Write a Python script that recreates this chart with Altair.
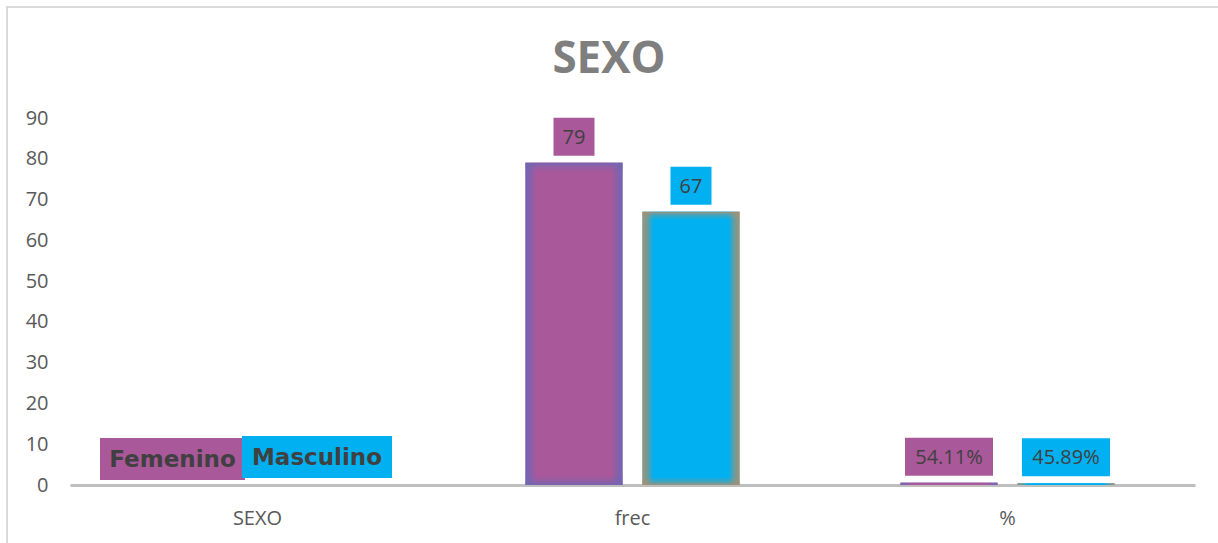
import altair as alt
import pandas as pd

categories = ["SEXO", "frec", "%"]
series = ["Femenino", "Masculino"]
femenino = [0, 79, 0.5411]
masculino = [0, 67, 0.4589]
y_ticks = [0, 10, 20, 30, 40, 50, 60, 70, 80, 90]
chart_title = "SEXO"
series_colors = ["#A9589A", "#00B0F0"]
edge_colors = ["#7066B4", "#A8906F"]

rows = []
for c, f, m in zip(categories, femenino, masculino):
    rows.append({"category": c, "series": "Femenino", "value": f})
    rows.append({"category": c, "series": "Masculino", "value": m})
df = pd.DataFrame(rows)

base = alt.Chart(df).transform_calculate(
    kind="datum.category == 'SEXO' ? datum.series : (datum.category == 'frec' ? 'num' : 'pct')",
    label="datum.category == 'SEXO' ? datum.series : (datum.category == '%' ? format(datum.value, '.2%') : format(datum.value, 'd'))",
)

x_enc = alt.X(
    "category:N",
    sort=categories,
    scale=alt.Scale(domain=categories, paddingInner=0, paddingOuter=0),
    axis=alt.Axis(
        title=None, labelAngle=0, ticks=False, domainColor="#BFBFBF", domainWidth=3,
        labelFont="Open Sans", labelFontSize=20, labelColor="#595959", labelPadding=23,
    ),
)
xo_enc = alt.XOffset("series:N", scale=alt.Scale(domain=series, paddingInner=0.171, paddingOuter=0.688))
y_enc = alt.Y(
    "value:Q",
    scale=alt.Scale(domain=[0, 90], nice=False),
    axis=alt.Axis(
        title=None, values=y_ticks, domain=False, ticks=False, grid=False,
        labelFont="Open Sans", labelFontSize=20, labelColor="#595959", labelPadding=22,
    ),
)


def hex_rgba(h, a):
    h = h.lstrip("#")
    r, g, b = int(h[0:2], 16), int(h[2:4], 16), int(h[4:6], 16)
    return f"rgba({r},{g},{b},{a})"


one_row = "datum.series == 'Femenino' && datum.category == 'SEXO'"

layers = []
# frame
layers.append(
    alt.Chart(df).mark_rect(fill="transparent", stroke="#D9D9D9", strokeWidth=2).encode(
        x=alt.value(-63), x2=alt.value(1300), y=alt.value(-111), y2=alt.value(600)
    ).transform_filter(one_row)
)
# title
layers.append(
    alt.Chart(df).mark_text(
        text=chart_title, font="Open Sans", fontSize=44, fontWeight="bold", color="#7F7F7F",
        align="center", baseline="alphabetic",
    ).encode(x=alt.value(539), y=alt.value(-45)).transform_filter(one_row)
)

for s, col, edge in zip(series, series_colors, edge_colors):
    hgrad = {
        "gradient": "linear", "x1": 0, "y1": 0, "x2": 1, "y2": 0,
        "stops": [
            {"offset": 0, "color": edge},
            {"offset": 0.035, "color": hex_rgba(edge, 0.75)},
            {"offset": 0.11, "color": col},
            {"offset": 0.89, "color": col},
            {"offset": 0.965, "color": hex_rgba(edge, 0.75)},
            {"offset": 1, "color": edge},
        ],
    }
    vgrad = {
        "gradient": "linear", "x1": 0, "y1": 0, "x2": 0, "y2": 1,
        "stops": [
            {"offset": 0, "color": hex_rgba(edge, 0.9)},
            {"offset": 0.012, "color": hex_rgba(edge, 0.4)},
            {"offset": 0.03, "color": hex_rgba(edge, 0)},
            {"offset": 0.97, "color": hex_rgba(edge, 0)},
            {"offset": 0.988, "color": hex_rgba(edge, 0.4)},
            {"offset": 1, "color": hex_rgba(edge, 0.9)},
        ],
    }
    flt = f"datum.series == '{s}'"
    layers.append(base.mark_bar(fill=col).encode(x=x_enc, xOffset=xo_enc, y=y_enc).transform_filter(flt))
    layers.append(base.mark_bar(color=hgrad).encode(x=x_enc, xOffset=xo_enc, y=y_enc).transform_filter(flt))
    layers.append(base.mark_bar(color=vgrad).encode(x=x_enc, xOffset=xo_enc, y=y_enc).transform_filter(flt))

# label boxes (custom symbol paths, unit = 100 px with size 40000)
box_paths = [
    "M-0.99,-0.47L0.46,-0.47L0.46,-0.05L-0.99,-0.05Z",
    "M-0.74,-0.49L0.76,-0.49L0.76,-0.07L-0.74,-0.07Z",
    "M-0.205,-0.45L0.205,-0.45L0.205,-0.07L-0.205,-0.07Z",
    "M-0.44,-0.45L0.44,-0.45L0.44,-0.07L-0.44,-0.07Z",
]
layers.append(
    base.mark_point(filled=True, opacity=1, size=40000, strokeWidth=0).encode(
        x=x_enc, xOffset=xo_enc, y=y_enc,
        shape=alt.Shape("kind:N", scale=alt.Scale(domain=["Femenino", "Masculino", "num", "pct"], range=box_paths), legend=None),
        color=alt.Color("series:N", scale=alt.Scale(domain=series, range=series_colors), legend=None),
    )
)

layers.append(
    base.mark_text(font="Open Sans", fontSize=20, color="#404040", dy=-25, baseline="middle").encode(
        x=x_enc, xOffset=xo_enc, y=y_enc, text="label:N"
    ).transform_filter("datum.kind == 'num' || datum.kind == 'pct'")
)
layers.append(
    base.mark_text(font="DejaVu Sans", fontWeight="bold", fontSize=23, color="#404040", dx=-26.5, dy=-25, baseline="middle").encode(
        x=x_enc, xOffset=xo_enc, y=y_enc, text="label:N"
    ).transform_filter("datum.kind == 'Femenino'")
)
layers.append(
    base.mark_text(font="DejaVu Sans", fontWeight="bold", fontSize=23, color="#404040", dx=1, dy=-27, baseline="middle").encode(
        x=x_enc, xOffset=xo_enc, y=y_enc, text="label:N"
    ).transform_filter("datum.kind == 'Masculino'")
)

chart = alt.layer(*layers).properties(
    width=1125,
    height=367,
    padding={"left": 70, "top": 118, "right": 23, "bottom": 58},
    autosize=alt.AutoSizeParams(type="none"),
    background="white",
).configure_view(strokeWidth=0)

chart.save("out.html", embed_options={"renderer": "svg", "actions": False})
